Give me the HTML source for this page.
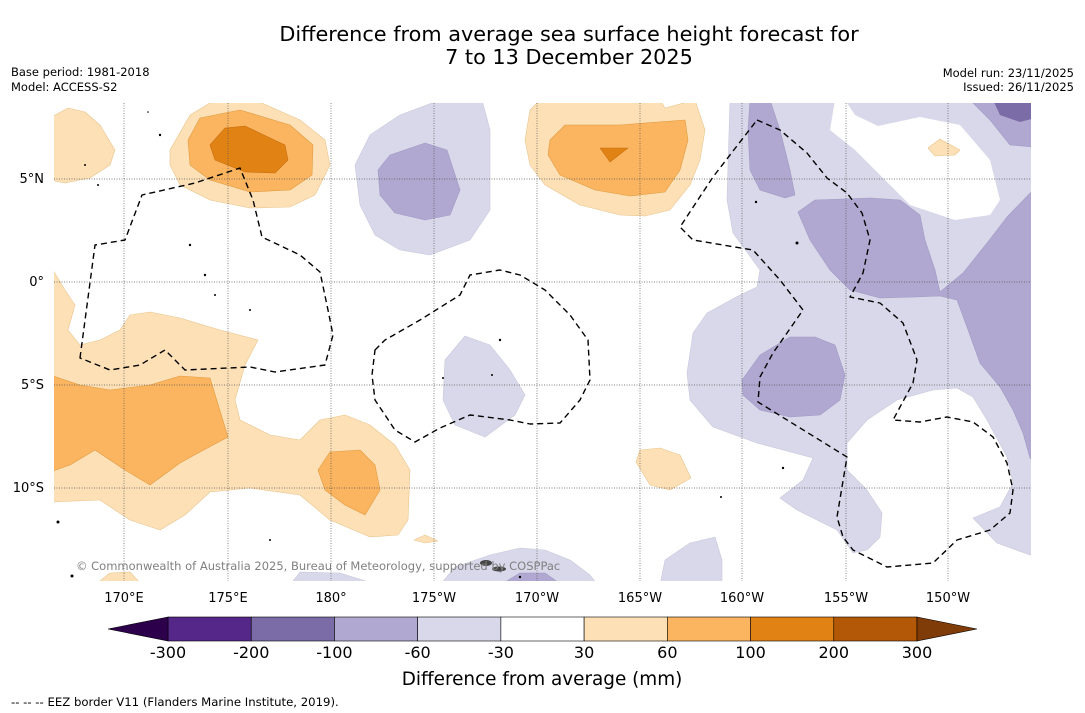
<!DOCTYPE html>
<html><head><meta charset="utf-8"><style>
body{margin:0;background:#fff;width:1085px;height:713px;overflow:hidden;font-family:"Liberation Sans","DejaVu Sans",sans-serif}
svg{position:absolute;left:0;top:0}
</style></head><body>
<svg width="1085" height="713" viewBox="0 0 1085 713" font-family="DejaVu Sans, Liberation Sans, sans-serif">
<text x="569" y="41" text-anchor="middle" font-size="20.8">Difference from average sea surface height forecast for</text>
<text x="569" y="64" text-anchor="middle" font-size="20.8">7 to 13 December 2025</text>
<text x="11" y="76" font-size="11.5">Base period: 1981-2018</text>
<text x="11" y="91" font-size="11.5">Model: ACCESS-S2</text>
<text x="1074" y="77" font-size="11.5" text-anchor="end">Model run: 23/11/2025</text>
<text x="1074" y="91" font-size="11.5" text-anchor="end">Issued: 26/11/2025</text>
<defs><clipPath id="mc"><rect x="54" y="103" width="977" height="478"/></clipPath></defs>
<g clip-path="url(#mc)" stroke-linejoin="round">
<g stroke="#c8c8dc" stroke-width="0.6">
<path fill="#d8d8ea" d="M730,100 L1035,100 L1035,555 L1030,555 L997,543 L973,518 L1000,507 L1013,483 L1007,457 L987,420 L973,397 L957,388 L933,390 L897,400 L867,420 L847,443 L847,470 L867,490 L882,513 L880,537 L867,550 L853,553 L837,530 L797,510 L780,498 L803,480 L813,458 L757,443 L713,427 L690,400 L687,373 L693,333 L707,313 L740,295 L757,287 L760,270 L733,233 L727,200 L728,167 Z"/>
<path fill="#d8d8ea" d="M355,165 L370,135 L400,115 L440,100 L482,100 L490,130 L490,210 L470,240 L430,255 L400,250 L375,235 L360,205 Z"/>
<path fill="#d8d8ea" d="M445,360 L465,336 L490,345 L510,370 L525,395 L515,415 L485,437 L455,425 L443,400 Z"/>
<path fill="#d8d8ea" d="M440,585 L455,567 L490,555 L520,548 L545,550 L570,560 L590,575 L598,585 Z"/>
<path fill="#d8d8ea" d="M290,585 L300,572 L340,573 L378,585 Z"/>
<path fill="#d8d8ea" d="M660,585 L665,560 L690,543 L715,537 L722,560 L722,585 Z"/>
</g>
<path fill="#fff" d="M845,100 L855,115 L878,126 L920,117 L960,125 L990,160 L1000,200 L990,215 L955,220 L910,205 L880,175 L855,150 L830,130 L835,100 Z"/>
<g fill="#b0a8d0" stroke="#a09ac4" stroke-width="0.6">
<path d="M750,100 L770,100 L780,130 L790,170 L795,195 L785,198 L760,190 L750,170 L748,130 Z"/>
<path d="M798,212 L815,200 L870,198 L900,200 L920,215 L925,240 L935,270 L940,292 L963,273 L987,243 L1007,217 L1035,188 L1035,462 L1030,458 L1023,433 L1013,410 L1000,387 L980,363 L967,327 L957,300 L940,296 L915,297 L880,298 L850,290 L830,270 L810,240 Z"/>
<path d="M742,380 L760,355 L790,337 L815,337 L835,345 L845,375 L840,400 L820,415 L790,417 L760,410 L743,395 Z"/>
<path d="M970,100 L1035,100 L1035,147 L1010,145 L990,120 Z"/>
<path d="M378,170 L390,155 L425,143 L447,150 L460,190 L450,215 L425,220 L395,213 L380,195 Z"/>
<path d="M500,585 L520,573 L545,573 L562,585 Z"/>
</g>
<path fill="#7b6ca8" d="M993,100 L1035,100 L1035,118 L1020,122 L1000,115 Z"/>
<g fill="#fde0b6" stroke="#e8c48c" stroke-width="0.6">
<path d="M50,118 L68,108 L85,112 L100,125 L115,150 L110,165 L90,178 L65,183 L50,180 Z"/>
<path d="M170,150 L190,115 L215,100 L255,100 L300,120 L325,140 L330,165 L315,195 L290,207 L250,208 L210,200 L180,185 L170,165 Z"/>
<path d="M50,265 L65,290 L75,305 L68,330 L80,345 L100,340 L120,330 L130,315 L150,312 L180,318 L220,330 L258,340 L245,365 L235,400 L240,420 L270,435 L300,440 L320,420 L345,415 L370,425 L395,445 L410,470 L408,520 L398,535 L370,537 L330,520 L300,495 L250,488 L210,492 L185,515 L160,530 L130,520 L100,500 L50,502 Z"/>
<path d="M525,140 L530,110 L540,100 L660,100 L665,108 L695,100 L705,130 L700,160 L690,185 L670,210 L645,216 L620,215 L580,205 L545,185 L530,165 Z"/>
<path d="M636,462 L640,450 L660,448 L680,455 L691,478 L670,490 L650,485 Z"/>
<path d="M928,148 L940,139 L960,150 L955,155 L935,156 Z"/>
<path d="M414,540 L425,535 L438,541 L425,543 Z"/>
<path d="M95,585 L110,573 L130,572 L142,585 Z"/>
</g>
<g fill="#fbb560" stroke="#e09a40" stroke-width="0.6">
<path d="M188,140 L200,118 L240,110 L290,125 L313,145 L312,175 L290,190 L250,192 L210,180 L190,165 Z"/>
<path d="M50,375 L80,385 L110,390 L150,385 L180,376 L210,378 L228,437 L200,452 L180,463 L150,485 L125,470 L95,450 L70,465 L50,472 Z"/>
<path d="M318,470 L330,452 L360,450 L375,465 L380,490 L365,515 L345,505 L325,490 Z"/>
<path d="M550,140 L565,125 L620,125 L685,120 L688,140 L680,170 L665,192 L630,196 L595,190 L560,175 L548,155 Z"/>
</g>
<g fill="#e08214" stroke="#c87010" stroke-width="0.6">
<path d="M210,145 L225,128 L245,126 L285,145 L288,160 L275,173 L245,172 L215,160 Z"/>
<path d="M600,148 L628,148 L610,162 Z"/>
</g>
<g stroke="#555" stroke-width="0.7" stroke-dasharray="1,1.5" fill="none">
<line x1="124" y1="103" x2="124" y2="581"/><line x1="228" y1="103" x2="228" y2="581"/><line x1="331" y1="103" x2="331" y2="581"/><line x1="434" y1="103" x2="434" y2="581"/><line x1="537" y1="103" x2="537" y2="581"/><line x1="640" y1="103" x2="640" y2="581"/><line x1="742" y1="103" x2="742" y2="581"/><line x1="846" y1="103" x2="846" y2="581"/><line x1="948" y1="103" x2="948" y2="581"/>
<line x1="54" y1="179" x2="1031" y2="179"/><line x1="54" y1="282" x2="1031" y2="282"/><line x1="54" y1="385" x2="1031" y2="385"/><line x1="54" y1="488" x2="1031" y2="488"/>
</g>
<g fill="none" stroke="#000" stroke-width="1.4" stroke-dasharray="6,4">
<path d="M80,358 L95,245 L125,240 L142,195 L195,183 L240,168 L253,200 L262,237 L300,255 L320,272 L328,310 L333,335 L325,365 L275,372 L250,367 L185,370 L165,350 L140,365 L110,370 Z"/>
<path d="M375,350 L385,340 L420,320 L460,295 L470,275 L500,270 L520,275 L545,290 L570,315 L588,340 L590,380 L580,400 L560,423 L530,424 L510,420 L470,415 L440,428 L415,442 L395,430 L375,400 L372,375 Z"/>
<path d="M757,120 L780,130 L807,153 L827,178 L847,193 L862,213 L870,240 L863,273 L850,297 L880,303 L903,323 L917,360 L913,383 L893,420 L920,422 L947,417 L973,422 L993,437 L1007,463 L1013,490 L1010,513 L990,530 L957,540 L933,563 L887,567 L853,550 L843,537 L837,517 L847,457 L758,402 L760,377 L773,353 L787,333 L803,310 L780,280 L753,250 L693,240 L680,227 L713,177 Z"/>
</g>
<g fill="#000">
<circle cx="85" cy="165" r="1"/><circle cx="98" cy="185" r="1"/><circle cx="190" cy="245" r="1.2"/><circle cx="205" cy="275" r="1.2"/><circle cx="215" cy="295" r="1"/><circle cx="250" cy="310" r="1"/><circle cx="160" cy="135" r="1.2"/><circle cx="148" cy="112" r="0.8"/><circle cx="500" cy="340" r="1.2"/><circle cx="492" cy="375" r="1"/><circle cx="443" cy="378" r="1"/><circle cx="797" cy="243" r="1.5"/><circle cx="756" cy="202" r="1.2"/><circle cx="783" cy="468" r="1.2"/><circle cx="721" cy="497" r="1"/><circle cx="58" cy="522" r="1.5"/><circle cx="72" cy="576" r="1.5"/><circle cx="270" cy="540" r="1"/><circle cx="520" cy="577" r="1.2"/>
<ellipse cx="486" cy="563" rx="6" ry="3" fill="#444"/><ellipse cx="499" cy="569" rx="7" ry="2.5" fill="#444"/>
</g>
<text x="76" y="570" font-size="11.5" fill="#808080">© Commonwealth of Australia 2025, Bureau of Meteorology, supported by COSPPac</text>
</g>
<g font-size="13" fill="#000" text-anchor="end">
<text x="44" y="183">5°N</text><text x="44" y="286">0°</text><text x="44" y="389">5°S</text><text x="44" y="492">10°S</text>
</g>
<g font-size="13" fill="#000" text-anchor="middle">
<text x="124" y="602">170°E</text><text x="228" y="602">175°E</text><text x="331" y="602">180°</text><text x="434" y="602">175°W</text><text x="537" y="602">170°W</text><text x="640" y="602">165°W</text><text x="742" y="602">160°W</text><text x="846" y="602">155°W</text><text x="948" y="602">150°W</text>
</g>
<g id="cbar"></g>
<text x="542" y="685" text-anchor="middle" font-size="18.4">Difference from average (mm)</text>
<text x="11" y="706" font-size="11.7">--  --  -- EEZ border V11 (Flanders Marine Institute, 2019).</text>
</svg>
<script>
const cbarLevels = ["-300","-200","-100","-60","-30","30","60","100","200","300"];
const cbarColors = ["#542788","#7b6ca8","#b0a8d0","#d8d8ea","#ffffff","#fde0b6","#fbb560","#e08214","#b35806"];
const cbarExtendColors = ["#2d004b","#7f3b08"];
const NS="http://www.w3.org/2000/svg";
const g=document.getElementById('cbar');
const x0=168,x1=917,y0=617,y1=641,w=(x1-x0)/cbarColors.length;
function mk(t,a){const e=document.createElementNS(NS,t);for(const k in a)e.setAttribute(k,a[k]);g.appendChild(e);return e;}
cbarColors.forEach((c,i)=>{
  const r=mk('rect',{x:x0+i*w,y:y0,width:w,height:y1-y0,fill:c,stroke:'#000','stroke-width':0.6});
  
  
});
const tl=mk('polygon',{points:`${x0},${y0} ${x0-60},${(y0+y1)/2} ${x0},${y1}`,fill:cbarExtendColors[0],stroke:'#000','stroke-width':0.6});


const tr=mk('polygon',{points:`${x1},${y0} ${x1+60},${(y0+y1)/2} ${x1},${y1}`,fill:cbarExtendColors[1],stroke:'#000','stroke-width':0.6});


cbarLevels.forEach((l,i)=>{
  const t=mk('text',{x:x0+i*w,y:658,'text-anchor':'middle','font-size':16});
  t.textContent=l;
  
  
});
</script>
</body></html>
